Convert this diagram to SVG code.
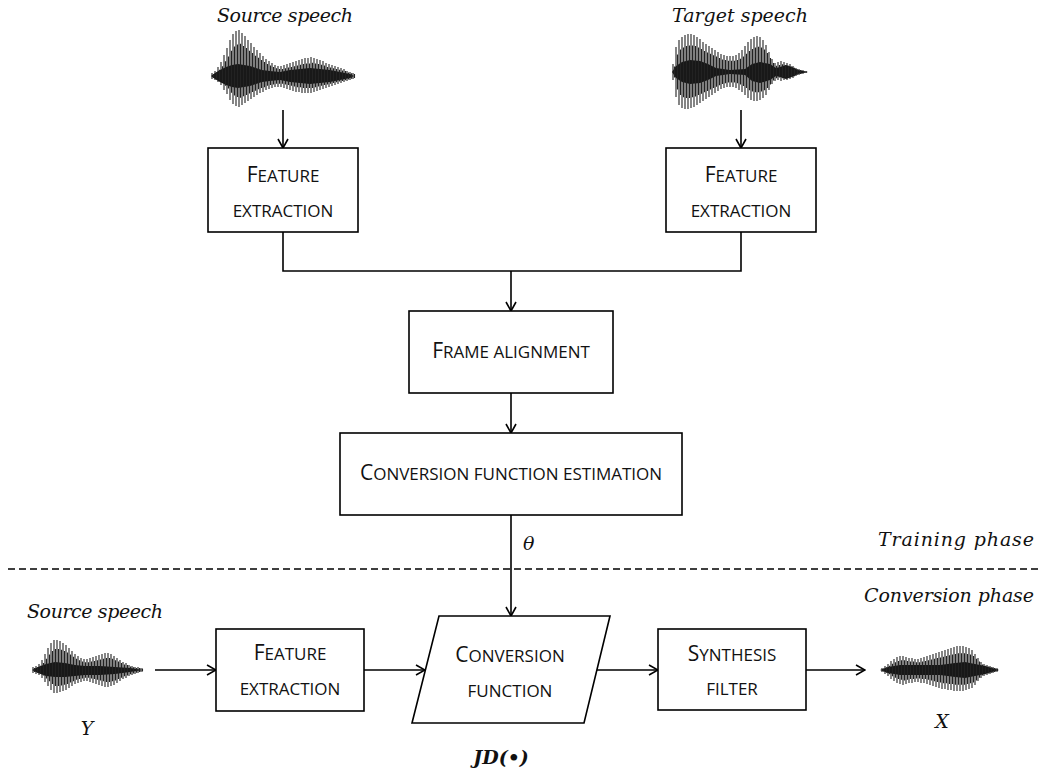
<svg xmlns="http://www.w3.org/2000/svg" xmlns:xlink="http://www.w3.org/1999/xlink" width="1051" height="771" viewBox="0 0 1051 771">
<style>
.box{fill:#fff;stroke:#000;stroke-width:1.6}
.ln{fill:none;stroke:#000;stroke-width:1.6}
.t{font-family:"Open Sans","Liberation Sans",sans-serif;font-size:17px;fill:#111;text-anchor:middle}
.c{font-size:21px}
.it{font-family:"DejaVu Serif","Liberation Serif",serif;font-style:italic;font-size:19px;fill:#111}
.wave{fill:none;stroke:#222;stroke-width:1.1}
.core{fill:#111;stroke:none}
</style>
<defs>
<marker id="arr" viewBox="-11 -6 12 12" refX="0" refY="0" markerWidth="12" markerHeight="12" markerUnits="userSpaceOnUse" orient="auto">
<path d="M-9,-5 L0,0 L-9,5" fill="none" stroke="#000" stroke-width="1.6"/>
</marker>
<path id="w1" class="wave" d="M212 73v6M215 71v9M218 67v15M221 62v23M224 55v35M227 48v46M230 40v60M233 34v70M236 31v75M239 30v77M242 33v72M245 36v67M248 40v61M251 43v56M254 47v50M257 50v45M260 53v40M263 56v36M266 59v31M269 61v28M272 63v25M275 65v22M278 66v21M281 66v21M284 65v23M287 64v25M290 63v27M293 62v29M296 61v31M299 60v32M302 59v34M305 58v35M308 58v35M311 57v36M314 58v34M317 59v32M320 60v30M323 61v28M326 63v25M329 64v23M332 65v21M335 66v19M338 67v17M341 68v15M344 69v13M347 71v10M350 72v8M353 73v6"/>
<path id="w2" class="wave" d="M673 64v16M676 47v50M679 40v65M682 37v71M685 35v74M688 34v75M691 34v74M694 35v72M697 37v68M700 39v64M703 42v59M706 44v55M709 46v51M712 48v47M715 50v43M718 52v39M721 54v35M724 55v33M727 56v31M730 56v31M733 56v31M736 55v33M739 53v37M742 50v42M745 46v49M748 42v56M751 39v61M754 37v64M757 36v65M760 37v63M763 40v58M766 45v50M769 52v38M772 59v25M775 63v18M778 62v18M781 61v20M784 62v18M787 63v17M790 64v15M793 66v12M796 68v8M799 69v6M802 70v4M805 71v2"/>
<path id="w3" class="wave" d="M33 667v6M36 666v8M39 664v11M42 660v18M45 654v28M48 648v38M51 643v47M54 640v53M57 640v53M60 641v51M63 643v48M66 645v45M69 648v40M72 651v35M75 654v30M78 656v27M81 658v24M84 659v22M87 659v22M90 658v24M93 657v26M96 656v28M99 655v30M102 654v32M105 653v34M108 653v34M111 654v32M114 656v29M117 658v25M120 660v21M123 662v17M126 663v15M129 665v11M132 666v9M135 667v7M138 667v6M141 668v4"/>
<path id="w4" class="wave" d="M882 668v4M885 666v8M888 664v12M891 661v18M894 659v22M897 657v26M900 656v28M903 656v29M906 657v27M909 658v25M912 658v25M915 659v23M918 659v23M921 658v25M924 657v26M927 656v28M930 655v30M933 654v32M936 653v34M939 652v36M942 651v38M945 650v39M948 649v41M951 648v42M954 647v44M957 646v45M960 646v45M963 646v45M966 647v43M969 648v41M972 650v38M975 654v31M978 658v23M981 662v16M984 664v12M987 665v10M990 666v8M993 667v6M996 668v4"/>
</defs>
<rect width="1051" height="771" fill="#fff"/>

<g id="connectors">
<line class="ln" x1="283" y1="110" x2="283" y2="148" marker-end="url(#arr)"/>
<line class="ln" x1="741" y1="110" x2="741" y2="148" marker-end="url(#arr)"/>
<polyline class="ln" points="283,232 283,271 741,271 741,232"/>
<line class="ln" x1="511" y1="271" x2="511" y2="311" marker-end="url(#arr)"/>
<line class="ln" x1="511" y1="393" x2="511" y2="433" marker-end="url(#arr)"/>
<line class="ln" x1="511" y1="515" x2="511" y2="616" marker-end="url(#arr)"/>
<line class="ln" x1="155" y1="670" x2="216" y2="670" marker-end="url(#arr)"/>
<line class="ln" x1="364" y1="670" x2="425" y2="670" marker-end="url(#arr)"/>
<line class="ln" x1="597" y1="670" x2="658" y2="670" marker-end="url(#arr)"/>
<line class="ln" x1="806" y1="670" x2="865" y2="670" marker-end="url(#arr)"/>
</g>

<line id="phase-divider" x1="8" y1="569" x2="1042" y2="569" stroke="#000" stroke-width="1.3" stroke-dasharray="7 4"/>

<g id="source-speech-top">
<text class="it" x="285" y="22" text-anchor="middle" textLength="136" lengthAdjust="spacing">Source speech</text>
<polygon class="core" points="211,76 215,73 220,70 226,67 232,65 238,64 244,65 250,66 256,68 262,70 270,71 280,72 290,70 300,69 310,68 320,69 330,70 340,72 350,74 354,76 350,78 340,80 330,82 320,83 310,84 300,83 290,82 280,80 270,81 262,82 256,84 250,86 244,87 238,88 232,87 226,85 220,82 215,79"/>
<use xlink:href="#w1"/>
<use xlink:href="#w1" transform="translate(1.5,22.8) scale(1,0.7)"/>
</g>

<g id="target-speech-top">
<text class="it" x="740" y="22" text-anchor="middle" textLength="136" lengthAdjust="spacing">Target speech</text>
<polygon class="core" points="672,72 676,66 682,62 690,60 700,61 708,64 716,68 730,70 745,69 752,64 760,62 770,64 776,68 780,67 786,65 792,67 798,70 808,72 798,74 792,77 786,79 780,77 776,76 770,80 760,83 752,81 745,75 730,74 716,76 708,80 700,83 690,84 682,82 676,78"/>
<use xlink:href="#w2"/>
<use xlink:href="#w2" transform="translate(1.5,21.6) scale(1,0.7)"/>
</g>

<g id="feature-extraction-src">
<rect class="box" x="208" y="148" width="150" height="84"/>
<text class="t" x="283" y="182"><tspan class="c">F</tspan>EATURE</text>
<text class="t" x="283" y="217">EXTRACTION</text>
</g>

<g id="feature-extraction-tgt">
<rect class="box" x="666" y="148" width="150" height="84"/>
<text class="t" x="741" y="182"><tspan class="c">F</tspan>EATURE</text>
<text class="t" x="741" y="217">EXTRACTION</text>
</g>

<g id="frame-alignment">
<rect class="box" x="409" y="311" width="204" height="82"/>
<text class="t" x="511" y="358"><tspan class="c">F</tspan>RAME ALIGNMENT</text>
</g>

<g id="conversion-function-estimation">
<rect class="box" x="340" y="433" width="342" height="82"/>
<text class="t" x="511" y="480"><tspan class="c">C</tspan>ONVERSION FUNCTION ESTIMATION</text>
</g>

<text id="theta" class="it" x="523" y="550" font-size="20">θ</text>
<text id="training-phase" class="it" x="1034" y="546" text-anchor="end" textLength="156" lengthAdjust="spacing">Training phase</text>
<text id="conversion-phase" class="it" x="1034" y="602" text-anchor="end" textLength="170" lengthAdjust="spacing">Conversion phase</text>

<g id="source-speech-Y">
<text class="it" x="95" y="618" text-anchor="middle" textLength="136" lengthAdjust="spacing">Source speech</text>
<polygon class="core" points="32,670 38,667 46,664 55,662 65,663 75,665 85,666 100,666 115,667 130,668 143,670 130,672 115,674 100,675 85,675 75,676 65,677 55,677 46,676 38,673"/>
<use xlink:href="#w3"/>
<use xlink:href="#w3" transform="translate(1.5,201) scale(1,0.7)"/>
<text class="it" x="87" y="735" text-anchor="middle" font-size="21">Y</text>
</g>

<g id="feature-extraction-conv">
<rect class="box" x="216" y="629" width="148" height="82"/>
<text class="t" x="290" y="660"><tspan class="c">F</tspan>EATURE</text>
<text class="t" x="290" y="695">EXTRACTION</text>
</g>

<g id="conversion-function">
<polygon class="box" points="439,616 610,616 584,723 412,723"/>
<text class="t" x="510" y="662"><tspan class="c">C</tspan>ONVERSION</text>
<text class="t" x="510" y="697">FUNCTION</text>
<text class="it" x="501" y="764" text-anchor="middle" font-size="27" font-weight="bold">JD(•)</text>
</g>

<g id="synthesis-filter">
<rect class="box" x="658" y="629" width="148" height="81"/>
<text class="t" x="732" y="661"><tspan class="c">S</tspan>YNTHESIS</text>
<text class="t" x="732" y="695">FILTER</text>
</g>

<g id="converted-speech-X">
<polygon class="core" points="880,670 888,667 900,665 920,665 940,665 955,663 965,662 975,664 985,666 999,670 985,674 975,676 965,678 955,677 940,675 920,675 900,675 888,673"/>
<use xlink:href="#w4"/>
<use xlink:href="#w4" transform="translate(1.5,201) scale(1,0.7)"/>
<text class="it" x="942" y="728" text-anchor="middle" font-size="21">X</text>
</g>
</svg>
